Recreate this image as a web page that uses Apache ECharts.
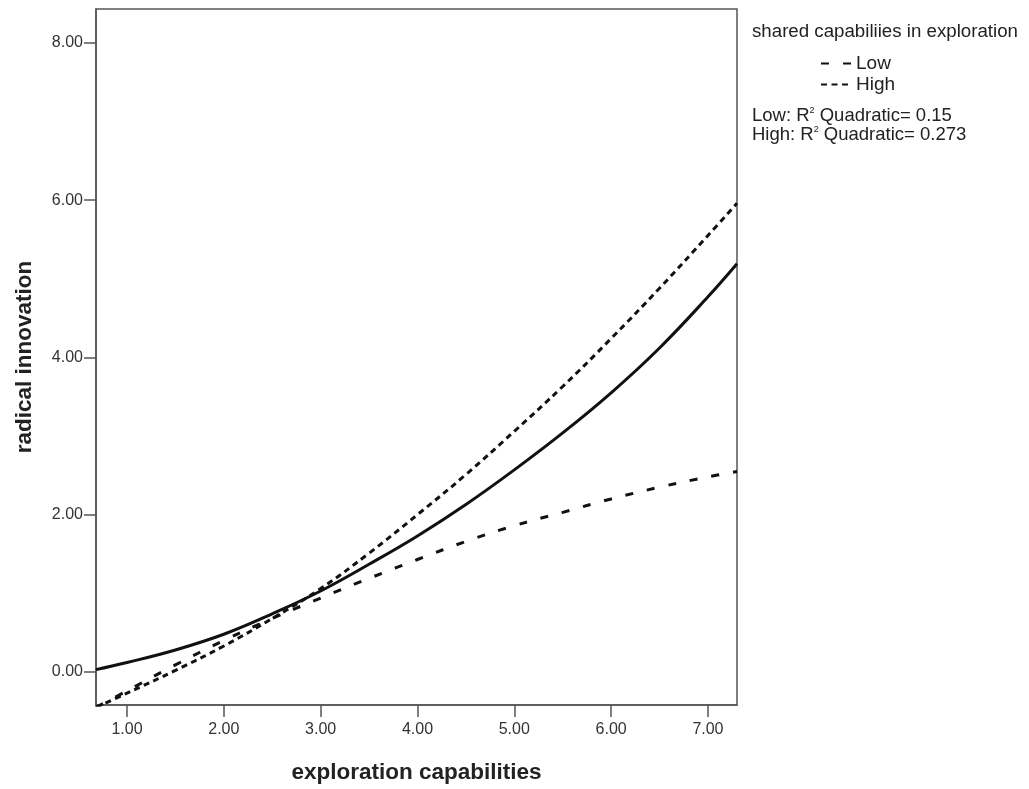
<!DOCTYPE html>
<html>
<head>
<meta charset="utf-8">
<script src="https://cdn.jsdelivr.net/npm/echarts@6/dist/echarts.min.js"></script>
<style>
html,body{margin:0;padding:0;background:#fff;}
#chart{width:1029px;height:789px;}
</style>
</head>
<body>
<div id="chart"></div>
<script>
// x positions at which the curves were read
const xs = [0.68, 1.0, 1.5, 2.0, 2.5, 3.0, 3.5, 4.0, 4.5, 5.0, 5.5, 6.0, 6.5, 7.0, 7.30];
// overall quadratic fit (solid line)
const totalFit = [0.03, 0.12, 0.28, 0.48, 0.74, 1.03, 1.37, 1.73, 2.13, 2.57, 3.04, 3.55, 4.12, 4.77, 5.19];
// Low shared capabilities (long dashes)
const lowFit = [-0.45, -0.24, 0.09, 0.40, 0.68, 0.94, 1.19, 1.43, 1.66, 1.86, 2.03, 2.20, 2.35, 2.48, 2.55];
// High shared capabilities (short dashes)
const highFit = [-0.45, -0.27, 0.02, 0.33, 0.68, 1.06, 1.51, 2.00, 2.51, 3.06, 3.63, 4.24, 4.88, 5.55, 5.96];
const xTicks = [1, 2, 3, 4, 5, 6, 7];
const yTicks = [0, 2, 4, 6, 8];
const legendTitle = 'shared capabiliies in exploration';
const r2Lines = ['Low: R{sup|2} Quadratic= 0.15', 'High: R{sup|2} Quadratic= 0.273'];

const FONT = '"Liberation Sans", Arial, Helvetica, sans-serif';
const pairs = arr => xs.map((x, i) => [x, arr[i]]);

const chart = echarts.init(document.getElementById('chart'));
const axisColor = '#555';
const supRich = { sup: { fontSize: 9, verticalAlign: 'top', fill: '#222', fontFamily: FONT } };
chart.setOption({
  animation: false,
  backgroundColor: '#fff',
  textStyle: { fontFamily: FONT },
  grid: { left: 96, right: 292, top: 9, bottom: 79, show: true, borderColor: axisColor, borderWidth: 1.5, backgroundColor: 'transparent' },
  xAxis: {
    type: 'value', min: 0.68, max: 7.30,
    name: 'exploration capabilities', nameLocation: 'middle', nameGap: 56,
    nameTextStyle: { fontSize: 22.5, fontWeight: 'bold', color: '#222', fontFamily: FONT },
    axisLine: { show: true, onZero: false, lineStyle: { color: axisColor, width: 1.5 } },
    axisTick: { show: true, length: 12, customValues: xTicks, lineStyle: { color: axisColor, width: 1.5 } },
    axisLabel: { customValues: xTicks, formatter: v => Number(v).toFixed(2), fontSize: 16, color: '#333', margin: 17, fontFamily: FONT },
    splitLine: { show: false }
  },
  yAxis: {
    type: 'value', min: -0.42, max: 8.43,
    name: 'radical innovation', nameLocation: 'middle', nameGap: 60, nameRotate: 90,
    nameTextStyle: { fontSize: 22.5, fontWeight: 'bold', color: '#222', fontFamily: FONT },
    axisLine: { show: true, onZero: false, lineStyle: { color: axisColor, width: 1.5 } },
    axisTick: { show: true, length: 12, customValues: yTicks, lineStyle: { color: axisColor, width: 1.5 } },
    axisLabel: { customValues: yTicks, formatter: v => Number(v).toFixed(2), fontSize: 16, color: '#333', margin: 13, fontFamily: FONT },
    splitLine: { show: false }
  },
  legend: {
    data: ['Low', 'High'], orient: 'vertical', left: 815, top: 49,
    itemWidth: 30, itemHeight: 14, itemGap: 2,
    itemStyle: { opacity: 0 },
    textStyle: { fontSize: 19, color: '#222', fontFamily: FONT }
  },
  graphic: [
    { type: 'text', left: 752, top: 22, style: { text: legendTitle, fontSize: 18.7, fill: '#222', fontFamily: FONT } },
    { type: 'text', left: 752, top: 106, style: { text: r2Lines[0], fontSize: 18.5, fill: '#222', fontFamily: FONT, rich: supRich } },
    { type: 'text', left: 752, top: 125, style: { text: r2Lines[1], fontSize: 18.5, fill: '#222', fontFamily: FONT, rich: supRich } }
  ],
  series: [
    { name: 'Total', type: 'line', data: pairs(totalFit), smooth: 0.4, symbol: 'none', clip: true,
      lineStyle: { color: '#111', width: 3 }, itemStyle: { color: '#111' } },
    { name: 'Low', type: 'line', data: pairs(lowFit), smooth: 0.4, symbol: 'none', clip: true,
      lineStyle: { color: '#111', width: 3, type: [8, 14] }, itemStyle: { color: '#111', opacity: 0 } },
    { name: 'High', type: 'line', data: pairs(highFit), smooth: 0.4, symbol: 'none', clip: true,
      lineStyle: { color: '#111', width: 3, type: [6, 4.5] }, itemStyle: { color: '#111', opacity: 0 } }
  ]
});
</script>
</body>
</html>
